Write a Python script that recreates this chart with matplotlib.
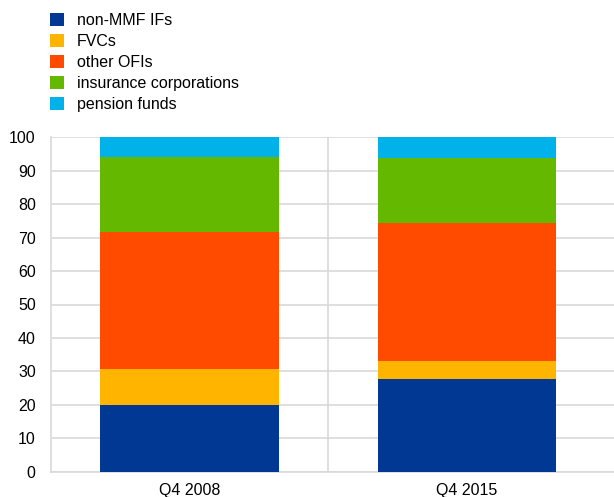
import numpy as np
import matplotlib.pyplot as plt

plt.rcParams['font.family'] = ['Liberation Sans', 'DejaVu Sans']

# shares of total assets, percentages
periods = ['Q4 2008', 'Q4 2015']
sectors = ['non-MMF IFs', 'FVCs', 'other OFIs', 'insurance corporations', 'pension funds']
non_mmf = [19.8, 27.8]
fvcs = [11.0, 5.4]
other_ofis = [40.9, 41.2]
insurance = [22.4, 19.5]
pension = [5.9, 6.1]
colors = ['#003894', '#FFB400', '#FF4B00', '#65B800', '#00B1EA']

fig = plt.figure(figsize=(6.14, 4.97), dpi=100)
ax = fig.add_axes([51 / 614, 25.3 / 497, 1 - 51 / 614, (471.7 - 137.3) / 497])

x = np.arange(len(periods))
bottom = np.zeros(len(periods))
handles = []
for name, vals, col in zip(sectors, [non_mmf, fvcs, other_ofis, insurance, pension], colors):
    b = ax.bar(x, vals, width=0.644, bottom=bottom, color=col, label=name, zorder=3)
    handles.append(b)
    bottom += np.array(vals)

ax.set_ylim(0, 100)
ax.set_xlim(-0.5, 1.531)
ax.set_yticks(np.arange(0, 101, 10))
ax.set_xticks(x)
ax.set_xticklabels(periods)
ax.tick_params(axis='both', length=0, labelsize=11.5, colors='#000000')
ax.tick_params(axis='y', pad=11)
ax.tick_params(axis='x', pad=8)

# horizontal grid plus divider between the two periods
ax.grid(axis='y', color='#d9d9d9', linewidth=1.2, zorder=0)
ax.axvline(0.5, color='#d9d9d9', linewidth=1.2, zorder=0)
for s in ['top', 'right']:
    ax.spines[s].set_visible(False)
ax.spines['left'].set_color('#d9d9d9')
ax.spines['bottom'].set_color('#d9d9d9')
ax.spines['left'].set_linewidth(1.2)
ax.spines['bottom'].set_linewidth(1.2)

fig.legend(handles=handles, loc='upper left', bbox_to_anchor=(50 / 614, 1 - 13 / 497),
           frameon=False, fontsize=11.5, handlelength=0.85, handleheight=0.85,
           handletextpad=0.85, labelspacing=0.38, borderpad=0, borderaxespad=0)

fig.savefig('out.png', dpi=100)
